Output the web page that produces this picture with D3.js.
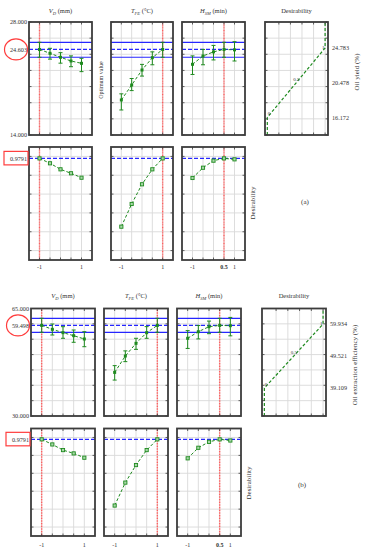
<!DOCTYPE html>
<html>
<head>
<meta charset="utf-8">
<script src="https://cdn.jsdelivr.net/npm/d3@7"></script>
<style>
body { margin: 0; background: #fff; }
svg { display: block; font-family: "Liberation Serif", "DejaVu Serif", serif; }
</style>
</head>
<body>
<svg id="chart" width="365" height="550"></svg>
<script>
// coded factor levels
var levels = [-1, -0.5, 0, 0.5, 1]
var factor_symbols = ["V", "T", "H"]
var factor_subs = ["D", "FE", "SM"]
var factor_units = [" (mm)", " (°C)", " (min)"]
var overall_desirability = 0.9791

// (a) oil yield
var yield_domain = [14, 28]
var yield_opt = 24.603
var yield_ci = [23.63, 25.48]
var yield_opt_levels = [-1, 1, 0.5]
var yield_thresholds = [16.172, 20.478, 24.783]
var yield_vd = [24.60, 24.12, 23.63, 23.17, 22.88]
var yield_vd_lo = [23.63, 23.40, 22.90, 22.46, 21.85]
var yield_vd_hi = [25.48, 24.74, 24.20, 23.80, 23.50]
var yield_tfe = [18.34, 20.19, 22.05, 23.58, 24.60]
var yield_tfe_lo = [17.10, 19.50, 21.30, 22.70, 23.63]
var yield_tfe_hi = [19.10, 21.00, 22.75, 24.30, 25.48]
var yield_hsm = [22.76, 23.79, 24.30, 24.60, 24.55]
var yield_hsm_lo = [21.50, 22.70, 23.30, 23.63, 23.17]
var yield_hsm_hi = [23.80, 24.60, 25.10, 25.48, 25.56]
var yield_des_vd = [0.979, 0.927, 0.863, 0.821, 0.774]
var yield_des_tfe = [0.254, 0.495, 0.704, 0.863, 0.979]
var yield_des_hsm = [0.771, 0.880, 0.955, 0.979, 0.969]

// (b) oil extraction efficiency
var eff_domain = [30, 65]
var eff_opt = 59.498
var eff_ci = [57.25, 61.81]
var eff_opt_levels = [-1, 1, 0.5]
var eff_thresholds = [39.109, 49.521, 59.934]
var eff_vd = [59.50, 58.22, 57.13, 56.15, 55.07]
var eff_vd_lo = [57.25, 56.37, 55.30, 54.00, 52.56]
var eff_vd_hi = [61.81, 59.95, 59.08, 58.00, 57.45]
var eff_tfe = [44.20, 49.53, 53.66, 57.13, 59.50]
var eff_tfe_lo = [41.70, 47.70, 51.70, 55.30, 57.25]
var eff_tfe_hi = [46.40, 51.20, 55.30, 59.10, 61.81]
var eff_hsm = [55.30, 57.45, 59.08, 59.50, 59.40]
var eff_hsm_lo = [52.00, 55.10, 56.80, 57.25, 56.10]
var eff_hsm_hi = [57.80, 59.46, 60.90, 61.81, 62.10]
var eff_des_vd = [0.979, 0.922, 0.859, 0.822, 0.774]
var eff_des_tfe = [0.240, 0.496, 0.692, 0.859, 0.979]
var eff_des_hsm = [0.767, 0.885, 0.951, 0.979, 0.966]

var green = "#1f8a1f"
var blue = "#2626ff"
var red = "#ff3d3d"
var opt_red = "#ff6060"
var frame_col = "#3c3c3c"
var grid_col = "#d9d9d9"
var text_col = "#333"

var svg = d3.select("#chart")

function draw_grid(g, x, y, xt, yt) {
    var x0 = x.range()[0], x1 = x.range()[1]
    var y0 = y.range()[1], y1 = y.range()[0]
    g.selectAll(".vg").data(xt).enter().append("line")
        .attr("x1", function(d) { return x(d) }).attr("x2", function(d) { return x(d) })
        .attr("y1", y0).attr("y2", y1)
        .attr("stroke", grid_col).attr("stroke-width", 0.9)
    g.selectAll(".hg").data(yt).enter().append("line")
        .attr("y1", function(d) { return y(d) }).attr("y2", function(d) { return y(d) })
        .attr("x1", x0).attr("x2", x1)
        .attr("stroke", grid_col).attr("stroke-width", 0.9)
}

function draw_box(g, x, y, xt, yt) {
    var x0 = x.range()[0], x1 = x.range()[1]
    var y0 = y.range()[1], y1 = y.range()[0]
    var t = 2.5
    var ticks = []
    xt.forEach(function(d) {
        ticks.push([x(d), y0, x(d), y0 + t])
        ticks.push([x(d), y1, x(d), y1 - t])
    })
    yt.forEach(function(d) {
        ticks.push([x0, y(d), x0 + t, y(d)])
        ticks.push([x1, y(d), x1 - t, y(d)])
    })
    g.selectAll(".tk").data(ticks).enter().append("line")
        .attr("x1", function(d) { return d[0] }).attr("y1", function(d) { return d[1] })
        .attr("x2", function(d) { return d[2] }).attr("y2", function(d) { return d[3] })
        .attr("stroke", frame_col).attr("stroke-width", 0.8)
    g.append("rect")
        .attr("x", x0).attr("y", y0)
        .attr("width", x1 - x0).attr("height", y1 - y0)
        .attr("fill", "none").attr("stroke", frame_col).attr("stroke-width", 1.8)
}

function factor_title(g, i, cx, cy) {
    var t = g.append("text")
        .attr("x", cx).attr("y", cy)
        .attr("text-anchor", "middle")
        .attr("font-size", 6.5)
        .attr("fill", text_col)
    t.append("tspan").text(factor_symbols[i]).attr("font-style", "italic")
    t.append("tspan").text(factor_subs[i]).attr("font-style", "italic")
        .attr("font-size", 4.5).attr("dy", 1.5)
    t.append("tspan").text(factor_units[i]).attr("dy", -1.5)
}

function draw_figure(f) {
    var root = svg.append("g")
    var fmt = d3.format(".3f")
    var y_top = d3.scaleLinear().domain(f.y_domain).range([f.top[1], f.top[0]])
    var y_bot = d3.scaleLinear().domain([-0.1, 1.1]).range([f.bottom[1], f.bottom[0]])
    var yt_top = y_top.ticks(7)
    var yt_bot = y_bot.ticks(6)
    var line_top = d3.line().x(function(d) { return d.x }).y(function(d) { return d.y })

    for (var i = 0; i < 3; i++) {
        var x = d3.scaleLinear().domain([-1.5, 1.5]).range(f.x_cols[i])
        var s = f.series[i]
        var gt = root.append("g"), gb = root.append("g")
        draw_grid(gt, x, y_top, levels, yt_top)
        draw_grid(gb, x, y_bot, levels, yt_bot)

        // optimum level of the factor
        gt.append("line").attr("x1", x(f.opt_levels[i])).attr("x2", x(f.opt_levels[i]))
            .attr("y1", f.top[0]).attr("y2", f.top[1])
            .attr("stroke", opt_red).attr("stroke-width", 1.4).attr("stroke-dasharray", "1,0.6")
        gb.append("line").attr("x1", x(f.opt_levels[i])).attr("x2", x(f.opt_levels[i]))
            .attr("y1", f.bottom[0]).attr("y2", f.bottom[1])
            .attr("stroke", opt_red).attr("stroke-width", 1.4).attr("stroke-dasharray", "1,0.6")

        // optimum response and its interval
        f.ci.forEach(function(v) {
            gt.append("line").attr("x1", x.range()[0]).attr("x2", x.range()[1])
                .attr("y1", y_top(v)).attr("y2", y_top(v))
                .attr("stroke", blue).attr("stroke-width", 1.2)
        })
        gt.append("line").attr("x1", x.range()[0]).attr("x2", x.range()[1])
            .attr("y1", y_top(f.opt)).attr("y2", y_top(f.opt))
            .attr("stroke", blue).attr("stroke-width", 1.2).attr("stroke-dasharray", "4,2")
        gb.append("line").attr("x1", x.range()[0]).attr("x2", x.range()[1])
            .attr("y1", y_bot(overall_desirability)).attr("y2", y_bot(overall_desirability))
            .attr("stroke", blue).attr("stroke-width", 1.2).attr("stroke-dasharray", "4,2")

        // response profile with intervals
        var pts = levels.map(function(l, k) {
            return { x: x(l), y: y_top(s.mean[k]), lo: y_top(s.lo[k]), hi: y_top(s.hi[k]) }
        })
        gt.append("path").attr("d", line_top(pts))
            .attr("fill", "none").attr("stroke", green).attr("stroke-width", 1)
            .attr("stroke-dasharray", "3,2")
        gt.selectAll(".eb").data(pts).enter().append("path")
            .attr("d", function(d) {
                return "M" + d.x + "," + d.lo + "V" + d.hi +
                    "M" + (d.x - 2) + "," + d.lo + "H" + (d.x + 2) +
                    "M" + (d.x - 2) + "," + d.hi + "H" + (d.x + 2)
            })
            .attr("fill", "none").attr("stroke", green).attr("stroke-width", 1)
        gt.selectAll(".mk").data(pts).enter().append("rect")
            .attr("x", function(d) { return d.x - 1.5 }).attr("y", function(d) { return d.y - 1.5 })
            .attr("width", 3).attr("height", 3).attr("fill", green)

        // desirability profile
        var dpts = levels.map(function(l, k) { return { x: x(l), y: y_bot(s.des[k]) } })
        gb.append("path").attr("d", line_top(dpts))
            .attr("fill", "none").attr("stroke", green).attr("stroke-width", 1)
            .attr("stroke-dasharray", "3,2")
        gb.selectAll(".mk").data(dpts).enter().append("rect")
            .attr("x", function(d) { return d.x - 1.6 }).attr("y", function(d) { return d.y - 1.6 })
            .attr("width", 3.2).attr("height", 3.2)
            .attr("fill", "#a8d8a8").attr("stroke", green).attr("stroke-width", 0.9)

        draw_box(gt, x, y_top, levels, yt_top)
        draw_box(gb, x, y_bot, levels, yt_bot)

        factor_title(root, i, (f.x_cols[i][0] + f.x_cols[i][1]) / 2, f.title_y)

        // x tick labels under the desirability row
        var xl = i == 2 ? [-1, 0.5, 1] : [-1, 1]
        root.append("g").selectAll("text").data(xl).enter().append("text")
            .attr("x", function(d) { return x(d) })
            .attr("y", f.xlabel_y)
            .attr("text-anchor", "middle")
            .attr("font-size", 6)
            .attr("font-weight", function(d) { return d == 0.5 ? "bold" : "normal" })
            .attr("fill", text_col)
            .text(function(d) { return d })
    }

    // response desirability function panel
    var xd = d3.scaleLinear().domain([-0.04, 1.05]).range(f.x_cols[3])
    var gd = root.append("g")
    var xt_d = [0.2, 0.4, 0.6, 0.8, 1.0]
    draw_grid(gd, xd, y_top, xt_d, yt_top)
    var dom = y_top.domain()
    var curve = [[0, dom[0]], [0, f.thresholds[0]], [1, f.thresholds[2]], [1, dom[1]]]
    gd.append("path")
        .attr("d", d3.line().x(function(d) { return xd(d[0]) }).y(function(d) { return y_top(d[1]) })(curve))
        .attr("fill", "none").attr("stroke", green).attr("stroke-width", 1.2)
        .attr("stroke-dasharray", "3,2")
    var dlab = [["0", 0, f.thresholds[0], 0.5, -2], ["0.5", 0.5, f.thresholds[1], -3, -2], ["1", 1, f.thresholds[2], -3, 1]]
    gd.selectAll(".dl").data(dlab).enter().append("text")
        .attr("x", function(d) { return xd(d[1]) + d[3] })
        .attr("y", function(d) { return y_top(d[2]) + d[4] })
        .attr("font-size", 5).attr("fill", text_col)
        .text(function(d) { return d[0] })
    draw_box(gd, xd, y_top, xt_d, yt_top)
    root.append("text")
        .attr("x", (f.x_cols[3][0] + f.x_cols[3][1]) / 2).attr("y", f.title_y)
        .attr("text-anchor", "middle").attr("font-size", 6.5).attr("fill", text_col)
        .text("Desirability")
    root.append("g").selectAll("text").data(f.thresholds).enter().append("text")
        .attr("x", f.x_cols[3][1] + 4)
        .attr("y", function(d) { return y_top(d) + 2.2 })
        .attr("font-size", 6.2).attr("fill", text_col)
        .text(function(d) { return fmt(d) })
    root.append("text")
        .attr("transform", "translate(" + f.resp_label[0] + "," + f.resp_label[1] + ") rotate(-90)")
        .attr("text-anchor", "middle").attr("font-size", 7).attr("fill", text_col)
        .text(f.resp_name)

    // left labels
    var lx = f.x_cols[0][0] - 2
    root.append("g").selectAll("text").data([dom[1], f.opt, dom[0]]).enter().append("text")
        .attr("x", lx)
        .attr("y", function(d) { return y_top(d) + 2.2 })
        .attr("text-anchor", "end").attr("font-size", 6.2).attr("fill", text_col)
        .text(function(d) { return fmt(d) })
    root.append("ellipse")
        .attr("cx", lx - 11).attr("cy", y_top(f.opt))
        .attr("rx", 11.5).attr("ry", 10.5)
        .attr("fill", "none").attr("stroke", red).attr("stroke-width", 1.2)
    root.append("text")
        .attr("x", lx).attr("y", y_bot(overall_desirability) + 2.2)
        .attr("text-anchor", "end").attr("font-size", 6.2).attr("fill", text_col)
        .text(overall_desirability)
    root.append("rect")
        .attr("x", lx - 23).attr("y", y_bot(overall_desirability) - 7)
        .attr("width", 24).attr("height", 13.5)
        .attr("fill", "none").attr("stroke", red).attr("stroke-width", 1.2)

    root.append("text")
        .attr("transform", "translate(" + f.des_label[0] + "," + f.des_label[1] + ") rotate(-90)")
        .attr("text-anchor", "middle").attr("font-size", 7).attr("fill", text_col)
        .text("Desirability")
    root.append("text")
        .attr("x", f.tag[0]).attr("y", f.tag[1])
        .attr("text-anchor", "middle").attr("font-size", 7).attr("fill", text_col)
        .text(f.tag_text)
    if (f.opt_label) {
        root.append("text")
            .attr("transform", "translate(" + f.opt_label[0] + "," + f.opt_label[1] + ") rotate(-90)")
            .attr("text-anchor", "middle").attr("font-size", 6).attr("fill", text_col)
            .text("Optimum value")
    }
}

draw_figure({
    x_cols: [[29, 92], [111, 173], [182, 245], [265, 328]],
    top: [22, 135], bottom: [147, 260],
    title_y: 13, xlabel_y: 269,
    y_domain: yield_domain, opt: yield_opt, ci: yield_ci,
    opt_levels: yield_opt_levels, thresholds: yield_thresholds,
    series: [
        { mean: yield_vd, lo: yield_vd_lo, hi: yield_vd_hi, des: yield_des_vd },
        { mean: yield_tfe, lo: yield_tfe_lo, hi: yield_tfe_hi, des: yield_des_tfe },
        { mean: yield_hsm, lo: yield_hsm_lo, hi: yield_hsm_hi, des: yield_des_hsm }
    ],
    resp_name: "Oil yield (%)", resp_label: [359, 72],
    des_label: [255, 203], tag: [305, 204], tag_text: "(a)",
    opt_label: [103, 80]
})

draw_figure({
    x_cols: [[31, 95], [104, 168], [177, 241], [262, 326]],
    top: [308.5, 416], bottom: [428.5, 536],
    title_y: 298, xlabel_y: 547,
    y_domain: eff_domain, opt: eff_opt, ci: eff_ci,
    opt_levels: eff_opt_levels, thresholds: eff_thresholds,
    series: [
        { mean: eff_vd, lo: eff_vd_lo, hi: eff_vd_hi, des: eff_des_vd },
        { mean: eff_tfe, lo: eff_tfe_lo, hi: eff_tfe_hi, des: eff_des_tfe },
        { mean: eff_hsm, lo: eff_hsm_lo, hi: eff_hsm_hi, des: eff_des_hsm }
    ],
    resp_name: "Oil extraction efficiency (%)", resp_label: [357, 365],
    des_label: [251, 483], tag: [302, 487], tag_text: "(b)"
})
</script>
</body>
</html>
